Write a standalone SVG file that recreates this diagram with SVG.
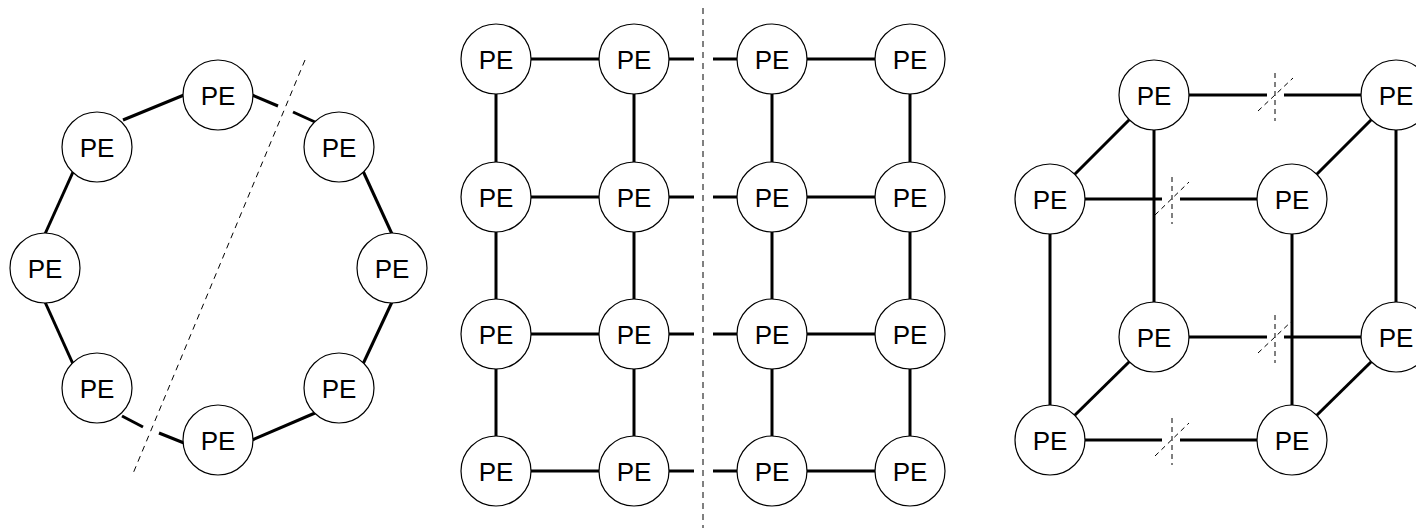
<svg xmlns="http://www.w3.org/2000/svg" width="1416" height="528" viewBox="0 0 1416 528">
  <style>
    .pe-ring { fill: #fff; stroke: #000; stroke-width: 1.2; }
    .pe-label { font-family: "Liberation Sans", Arial, sans-serif; font-size: 26px; fill: #000; text-anchor: middle; dominant-baseline: central; }
    .link { stroke: #000; stroke-width: 3; fill: none; }
    .cut { stroke: #000; stroke-width: 1; stroke-dasharray: 6 5; fill: none; }
    .cutmark { stroke: #000; stroke-width: 1; stroke-dasharray: 5 4; fill: none; }
  </style>
  <defs>
    <g id="peShape">
      <circle class="pe-ring" cx="0" cy="0" r="35"/>
      <text class="pe-label" x="0" y="1">PE</text>
    </g>
  </defs>

  <rect width="1416" height="528" fill="#fff"/>

  <!-- connectors -->
  <g id="connectors">
    <!-- ring -->
    <line class="link" x1="184" y1="95" x2="123" y2="120"/>
    <line class="link" x1="252" y1="95" x2="278" y2="106"/>
    <line class="link" x1="293" y1="112" x2="315" y2="122"/>
    <line class="link" x1="73" y1="172" x2="45" y2="234"/>
    <line class="link" x1="45" y1="302" x2="73" y2="364"/>
    <line class="link" x1="122" y1="416" x2="143" y2="427"/>
    <line class="link" x1="159" y1="433" x2="184" y2="443"/>
    <line class="link" x1="252" y1="440" x2="315" y2="413"/>
    <line class="link" x1="363" y1="364" x2="392" y2="302"/>
    <line class="link" x1="392" y1="234" x2="363" y2="171"/>
    <line class="cut" x1="305" y1="60" x2="132" y2="476"/>

    <!-- mesh: rows -->
    <g>
      <line class="link" x1="530" y1="59" x2="600" y2="59"/>
      <line class="link" x1="668" y1="59" x2="694" y2="59"/>
      <line class="link" x1="713" y1="59" x2="738" y2="59"/>
      <line class="link" x1="806" y1="59" x2="876" y2="59"/>

      <line class="link" x1="530" y1="197" x2="600" y2="197"/>
      <line class="link" x1="668" y1="197" x2="694" y2="197"/>
      <line class="link" x1="713" y1="197" x2="738" y2="197"/>
      <line class="link" x1="806" y1="197" x2="876" y2="197"/>

      <line class="link" x1="530" y1="334" x2="600" y2="334"/>
      <line class="link" x1="668" y1="334" x2="694" y2="334"/>
      <line class="link" x1="713" y1="334" x2="738" y2="334"/>
      <line class="link" x1="806" y1="334" x2="876" y2="334"/>

      <line class="link" x1="530" y1="471" x2="600" y2="471"/>
      <line class="link" x1="668" y1="471" x2="694" y2="471"/>
      <line class="link" x1="713" y1="471" x2="738" y2="471"/>
      <line class="link" x1="806" y1="471" x2="876" y2="471"/>
    </g>
    <!-- mesh: columns -->
    <g>
      <line class="link" x1="496" y1="93" x2="496" y2="163"/>
      <line class="link" x1="496" y1="231" x2="496" y2="300"/>
      <line class="link" x1="496" y1="368" x2="496" y2="437"/>
      <line class="link" x1="634" y1="93" x2="634" y2="163"/>
      <line class="link" x1="634" y1="231" x2="634" y2="300"/>
      <line class="link" x1="634" y1="368" x2="634" y2="437"/>
      <line class="link" x1="772" y1="93" x2="772" y2="163"/>
      <line class="link" x1="772" y1="231" x2="772" y2="300"/>
      <line class="link" x1="772" y1="368" x2="772" y2="437"/>
      <line class="link" x1="910" y1="93" x2="910" y2="163"/>
      <line class="link" x1="910" y1="231" x2="910" y2="300"/>
      <line class="link" x1="910" y1="368" x2="910" y2="437"/>
    </g>
    <line class="cut" x1="703" y1="8" x2="703" y2="528"/>

    <!-- cube -->
    <line class="link" x1="1154" y1="129" x2="1154" y2="303"/>
    <line class="link" x1="1396" y1="129" x2="1396" y2="303"/>
    <line class="link" x1="1050" y1="233" x2="1050" y2="406"/>
    <line class="link" x1="1292" y1="233" x2="1292" y2="406"/>

    <line class="link" x1="1130" y1="119" x2="1074" y2="175"/>
    <line class="link" x1="1372" y1="119" x2="1316" y2="175"/>
    <line class="link" x1="1130" y1="361" x2="1074" y2="416"/>
    <line class="link" x1="1372" y1="361" x2="1316" y2="416"/>

    <line class="link" x1="1188" y1="95" x2="1267" y2="95"/>
    <line class="link" x1="1284" y1="95" x2="1362" y2="95"/>
    <line class="link" x1="1084" y1="199" x2="1162" y2="199"/>
    <line class="link" x1="1180" y1="199" x2="1258" y2="199"/>
    <line class="link" x1="1188" y1="337" x2="1267" y2="337"/>
    <line class="link" x1="1284" y1="337" x2="1362" y2="337"/>
    <line class="link" x1="1084" y1="440" x2="1162" y2="440"/>
    <line class="link" x1="1180" y1="440" x2="1258" y2="440"/>

    <!-- cut marks on the cube's x-direction links -->
    <g>
      <line class="cutmark" x1="1275" y1="73" x2="1275" y2="121"/>
      <line class="cutmark" x1="1258" y1="111" x2="1293" y2="78"/>
      <line class="cutmark" x1="1172" y1="177" x2="1172" y2="224"/>
      <line class="cutmark" x1="1155" y1="215" x2="1189" y2="182"/>
      <line class="cutmark" x1="1275" y1="315" x2="1275" y2="363"/>
      <line class="cutmark" x1="1258" y1="353" x2="1293" y2="320"/>
      <line class="cutmark" x1="1172" y1="418" x2="1172" y2="465"/>
      <line class="cutmark" x1="1155" y1="456" x2="1189" y2="423"/>
    </g>
  </g>

  <!-- ring nodes -->
  <g id="ring-0"><use href="#peShape" x="218" y="95"/></g>
  <g id="ring-1"><use href="#peShape" x="339" y="147"/></g>
  <g id="ring-2"><use href="#peShape" x="392" y="268"/></g>
  <g id="ring-3"><use href="#peShape" x="339" y="388"/></g>
  <g id="ring-4"><use href="#peShape" x="218" y="440"/></g>
  <g id="ring-5"><use href="#peShape" x="97" y="388"/></g>
  <g id="ring-6"><use href="#peShape" x="45" y="268"/></g>
  <g id="ring-7"><use href="#peShape" x="97" y="147"/></g>

  <!-- mesh nodes -->
  <g id="mesh-0-0"><use href="#peShape" x="496" y="59"/></g>
  <g id="mesh-0-1"><use href="#peShape" x="634" y="59"/></g>
  <g id="mesh-0-2"><use href="#peShape" x="772" y="59"/></g>
  <g id="mesh-0-3"><use href="#peShape" x="910" y="59"/></g>
  <g id="mesh-1-0"><use href="#peShape" x="496" y="197"/></g>
  <g id="mesh-1-1"><use href="#peShape" x="634" y="197"/></g>
  <g id="mesh-1-2"><use href="#peShape" x="772" y="197"/></g>
  <g id="mesh-1-3"><use href="#peShape" x="910" y="197"/></g>
  <g id="mesh-2-0"><use href="#peShape" x="496" y="334"/></g>
  <g id="mesh-2-1"><use href="#peShape" x="634" y="334"/></g>
  <g id="mesh-2-2"><use href="#peShape" x="772" y="334"/></g>
  <g id="mesh-2-3"><use href="#peShape" x="910" y="334"/></g>
  <g id="mesh-3-0"><use href="#peShape" x="496" y="471"/></g>
  <g id="mesh-3-1"><use href="#peShape" x="634" y="471"/></g>
  <g id="mesh-3-2"><use href="#peShape" x="772" y="471"/></g>
  <g id="mesh-3-3"><use href="#peShape" x="910" y="471"/></g>

  <!-- cube nodes -->
  <g id="cube-back-tl"><use href="#peShape" x="1154" y="95"/></g>
  <g id="cube-back-tr"><use href="#peShape" x="1396" y="95"/></g>
  <g id="cube-back-bl"><use href="#peShape" x="1154" y="337"/></g>
  <g id="cube-back-br"><use href="#peShape" x="1396" y="337"/></g>
  <g id="cube-front-tl"><use href="#peShape" x="1050" y="199"/></g>
  <g id="cube-front-tr"><use href="#peShape" x="1292" y="199"/></g>
  <g id="cube-front-bl"><use href="#peShape" x="1050" y="440"/></g>
  <g id="cube-front-br"><use href="#peShape" x="1292" y="440"/></g>
</svg>
